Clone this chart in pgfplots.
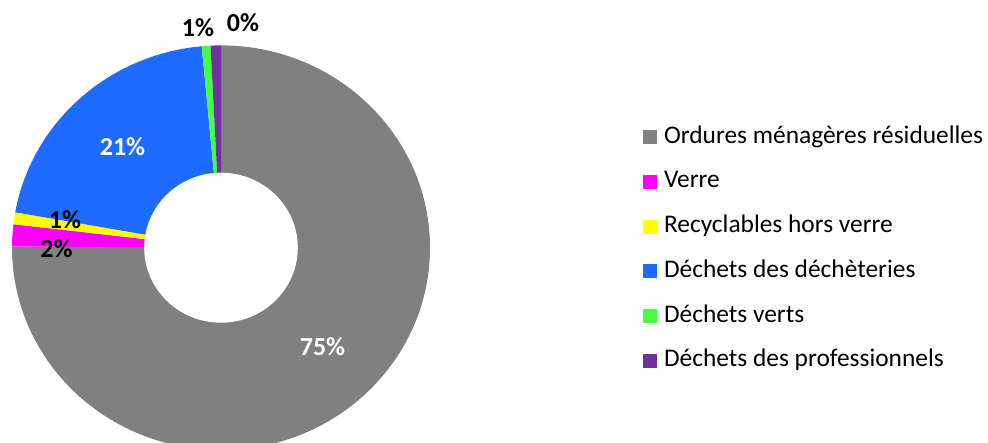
\documentclass[border=0pt]{standalone}
\usepackage{pgfplots}
\usepackage{pgfplotstable}
\pgfplotsset{compat=1.18}
\usepackage{fontspec}
\setmainfont{Carlito}

\definecolor{cgray}{HTML}{808080}
\definecolor{cpink}{HTML}{FF00FF}
\definecolor{cyellow}{HTML}{FFFF00}
\definecolor{cblue}{HTML}{1F6AFF}
\definecolor{cgreen}{HTML}{44FF44}
\definecolor{cpurple}{HTML}{7030A0}

% share of each waste stream (%), clockwise from 12 o'clock
\pgfplotstableread{
value col
75.10 cgray
1.75  cpink
0.95  cyellow
20.73 cblue
0.67  cgreen
0.80  cpurple
}\wastedata
\pgfplotstablecreatecol[expr accum={\pgfmathaccuma + \thisrow{value}}{0}]{cum}\wastedata

\begin{document}
\begin{tikzpicture}
\useasboundingbox (0,0) rectangle (988bp,443bp);
\begin{axis}[
  at={(0,0)}, anchor=south west,
  width=988bp, height=443bp, scale only axis,
  xmin=0, xmax=988, ymin=-443, ymax=0,
  hide axis, clip=true,
  legend image code/.code={\fill[#1, draw=none] (0bp,-7bp) rectangle (14bp,7bp);},
  legend cell align=left,
  legend style={draw=none, fill=none, inner sep=0pt, outer sep=0pt,
    at={(axis cs:643,-126.3)}, anchor=north west,
    row sep=22.7bp, column sep=7bp,
    nodes={inner sep=0pt, outer sep=0pt, text height=17bp, text depth=5bp},
    font=\fontsize{25.4bp}{30bp}\selectfont},
]
\pgfplotsinvokeforeach{0,...,5}{%
  \pgfplotstablegetelem{#1}{value}\of\wastedata \pgfmathsetmacro\v{\pgfplotsretval}%
  \pgfplotstablegetelem{#1}{cum}\of\wastedata \pgfmathsetmacro\c{\pgfplotsretval}%
  \pgfplotstablegetelem{#1}{col}\of\wastedata \edef\cc{\pgfplotsretval}%
  \pgfmathsetmacro\aA{90-3.6*(\c-\v)}%
  \pgfmathsetmacro\aB{90-3.6*\c}%
  \edef\temp{\noexpand\fill[\cc] (axis cs:221,-247.7) -- ++(\aA:209bp and 202.3bp)
     arc[start angle=\aA, end angle=\aB, x radius=209bp, y radius=202.3bp] -- cycle;}%
  \temp
}
\fill[white] (axis cs:221,-247.7) ellipse [x radius=76.8bp, y radius=75bp];

\addlegendimage{fill=cgray, draw=none}\addlegendentry{Ordures ménagères résiduelles}
\addlegendimage{fill=cpink, draw=none}\addlegendentry{Verre}
\addlegendimage{fill=cyellow, draw=none}\addlegendentry{Recyclables hors verre}
\addlegendimage{fill=cblue, draw=none}\addlegendentry{Déchets des déchèteries}
\addlegendimage{fill=cgreen, draw=none}\addlegendentry{Déchets verts}
\addlegendimage{fill=cpurple, draw=none}\addlegendentry{Déchets des professionnels}

\begin{scope}[every node/.style={font=\fontsize{26bp}{31bp}\selectfont\bfseries}]
\node[white] at (axis cs:322.5,-347) {75\%};
\node[white] at (axis cs:122.5,-146.5) {21\%};
\node[black] at (axis cs:198,-27.5) {1\%};
\node[black] at (axis cs:243,-23) {0\%};
\node[black] at (axis cs:65,-220) {1\%};
\node[black] at (axis cs:56.5,-248.5) {2\%};
\end{scope}
\end{axis}
\end{tikzpicture}
\end{document}
